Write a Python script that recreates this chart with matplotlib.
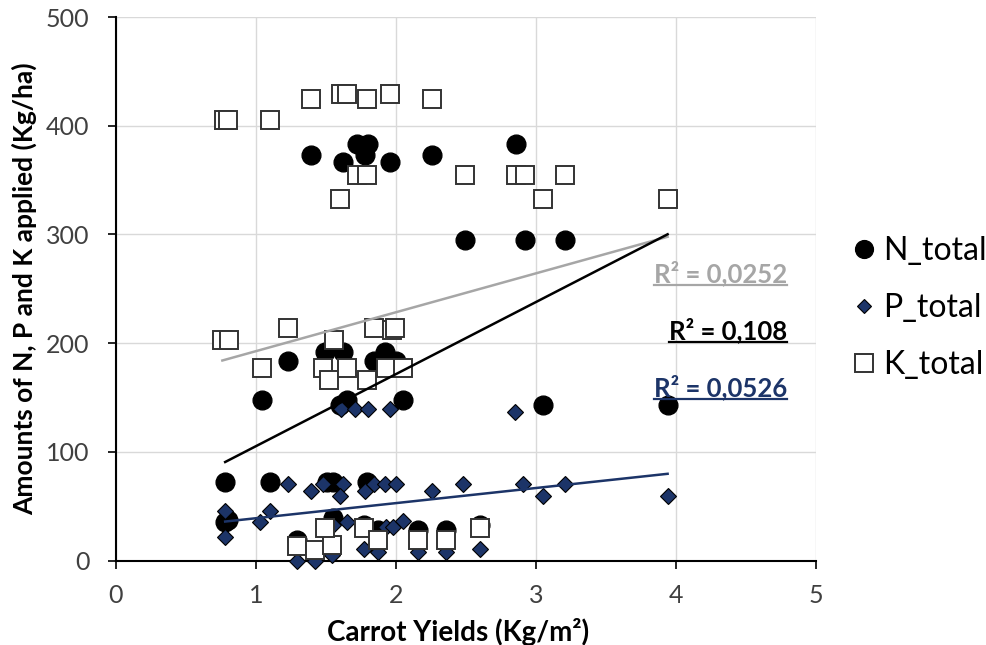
import matplotlib
matplotlib.use("Agg")
import matplotlib.pyplot as plt
import numpy as np

plt.rcParams['font.family'] = ['Lato', 'DejaVu Sans']

# N_total (circles)
n_x = [1.39, 1.62, 1.72, 1.80, 1.78, 1.96, 2.26, 2.86, 2.49, 2.92, 3.21,
       1.23, 1.04, 1.49, 1.62, 1.84, 1.92, 2.00, 2.05, 1.65, 1.60, 3.05, 3.94,
       0.78, 1.10, 1.51, 1.55, 1.79, 0.78, 0.80, 1.55, 1.29, 1.77, 1.87, 2.16, 2.36, 2.60]
n_y = [373, 367, 383, 383, 373, 367, 373, 383, 295, 295, 295,
       184, 148, 192, 192, 184, 192, 184, 148, 148, 143, 143, 143,
       72, 72, 72, 72, 72, 35, 37, 39, 19, 33, 28, 28, 28, 33]

# P_total (diamonds)
p_x = [0.78, 0.78, 1.03, 1.10, 1.23, 1.39, 1.48, 1.62, 1.60, 1.78, 1.84, 1.92, 2.00,
       2.26, 2.48, 2.91, 3.05, 3.21, 3.94, 1.65, 1.93, 1.98, 2.05, 1.55,
       1.29, 1.42, 1.54, 1.77, 1.87, 2.16, 2.36, 2.60,
       1.61, 1.71, 1.80, 1.96, 2.85]
p_y = [46, 22, 35, 46, 70, 64, 70, 70, 59, 64, 70, 70, 70,
       64, 70, 70, 59, 70, 59, 35, 31, 31, 36, 33,
       0, 0, 5, 11, 8, 8, 8, 11,
       139, 139, 139, 139, 137]

# K_total (squares)
k_x = [0.77, 0.80, 1.10, 1.39, 1.61, 1.65, 1.79, 1.96, 2.26, 1.72, 1.79, 2.49,
       1.60, 2.86, 2.92, 3.21, 3.05, 3.94,
       0.76, 0.81, 1.23, 1.04, 1.56, 1.48, 1.52, 1.65, 1.79, 1.84, 1.97, 1.99,
       1.93, 2.05,
       1.29, 1.42, 1.54, 1.49, 1.77, 1.87, 2.16, 2.36, 2.60]
k_y = [405, 405, 405, 425, 429, 429, 425, 429, 425, 355, 355, 355,
       333, 355, 355, 355, 333, 333,
       203, 203, 214, 177, 203, 177, 166, 177, 166, 214, 212, 214,
       177, 177,
       13, 10, 14, 30, 30, 19, 19, 19, 30]

# linear trendlines: (slope, intercept, r2 label)
trend_n = (66.3, 38.9, "R² = 0,108")
trend_p = (13.9, 25.0, "R² = 0,0526")
trend_k = (35.8, 156.8, "R² = 0,0252")

navy = '#1c3468'
grey = '#a6a6a6'

fig = plt.figure(figsize=(9.86, 6.45), dpi=100)
ax = fig.add_axes([0.1176, 0.131, 0.71, 0.8426])
ax.set_xlim(0, 5)
ax.set_ylim(0, 500)

ax.plot(n_x, n_y, 'o', ms=13.5, color='black', mec='black', label='N_total',
        clip_on=False, zorder=3)
ax.plot(p_x, p_y, 'D', ms=8, color=navy, mec='black', mew=0.8, label='P_total',
        clip_on=False, zorder=4)
ax.plot(k_x, k_y, 's', ms=13, mfc='white', mec='#333333', mew=1.4, label='K_total',
        clip_on=False, zorder=5)

# trendlines over each series' x range
for (xs, tr, col) in [(k_x, trend_k, grey), (n_x, trend_n, 'black'), (p_x, trend_p, navy)]:
    xl = np.array([min(xs), max(xs)])
    ax.plot(xl, tr[0] * xl + tr[1], color=col, lw=1.8, zorder=6)

ax.set_xticks(range(0, 6))
ax.set_yticks(range(0, 501, 100))
ax.grid(True, color='#d9d9d9', lw=1)
ax.set_axisbelow(True)
for s in ['top', 'right']:
    ax.spines[s].set_visible(False)
for s in ['left', 'bottom']:
    ax.spines[s].set_linewidth(1.5)
    ax.spines[s].set_color('black')
ax.tick_params(direction='out', length=6, width=1.2, labelsize=18, color='black',
               labelcolor='#404040')
ax.tick_params(axis='x', pad=11)
ax.tick_params(axis='y', pad=13)

ax.set_xlabel('Carrot Yields (Kg/m²)', fontsize=20, fontweight='bold')
ax.set_ylabel('Amounts of N, P and K applied (Kg/ha)', fontsize=19, fontweight='bold')
ax.xaxis.set_label_coords(0.488, -0.105)
ax.yaxis.set_label_coords(-0.112, 0.5)

ax.legend(loc='center left', bbox_to_anchor=(1.05, 0.4646), frameon=False, fontsize=23,
          borderaxespad=0, borderpad=0, labelspacing=0.85, handletextpad=0.2,
          handlelength=0.8, markerscale=0.95)

labels = []
for (tr, col, ty) in [(trend_k, grey, 264.5), (trend_n, 'black', 212), (trend_p, navy, 159.6)]:
    t = ax.text(4.793, ty, tr[2], color=col, fontsize=18.5, fontweight='bold',
                ha='right', va='center', zorder=7)
    labels.append((t, col, ty))

fig.canvas.draw()
renderer = fig.canvas.get_renderer()
inv = ax.transData.inverted()
for t, col, ty in labels:
    bb = t.get_window_extent(renderer)
    cy = ax.transData.transform((4.0, ty))[1]
    (x0, y0), (x1, _) = inv.transform([(bb.x0, cy - 12), (bb.x1, cy - 12)])
    ax.plot([x0, x1], [y0, y0], color=col, lw=1.6, clip_on=False, zorder=7)

fig.savefig('out.png', dpi=100)
